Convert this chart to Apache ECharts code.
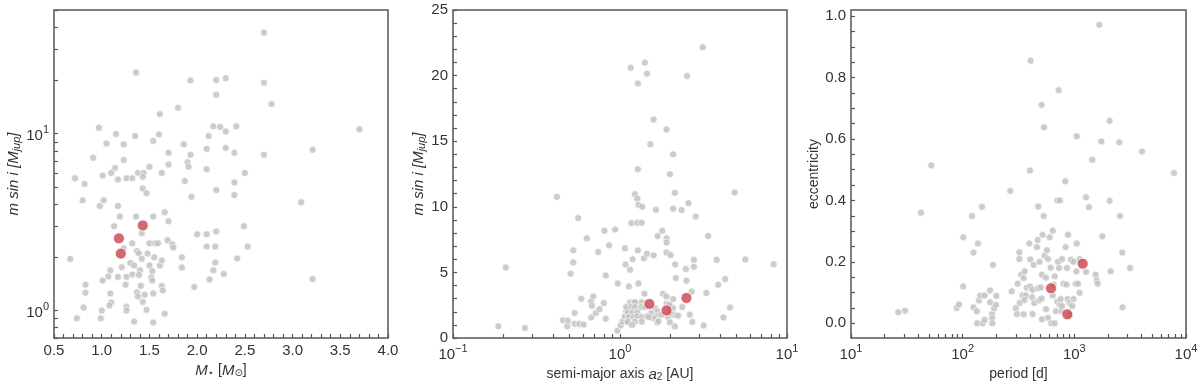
<!DOCTYPE html>
<html>
<head>
<meta charset="utf-8">
<script src="https://cdn.jsdelivr.net/npm/echarts@6/dist/echarts.min.js"></script>
<style>
html, body { margin: 0; padding: 0; background: #fff; }
#main { width: 1200px; height: 385px; }
</style>
</head>
<body>
<div id="main"></div>
<script>
// panel 1: host star mass vs m sin i
var starMass = [2.70,1.36,1.93,2.20,2.30,2.70,2.20,2.78,1.80,1.61,2.17,2.24,2.41,2.30,3.70,0.97,1.15,1.35,1.60,2.12,
    1.54,1.05,1.23,1.86,2.10,2.30,3.21,0.91,1.70,1.93,2.39,2.70,1.23,1.90,1.70,1.50,1.91,1.14,2.10,0.72,
    1.01,1.10,1.38,1.44,1.63,2.50,1.26,1.32,1.17,1.43,1.87,0.82,2.39,1.43,2.20,1.47,2.39,1.94,0.80,1.02,
    3.09,0.98,1.17,1.19,1.36,1.54,1.66,1.13,1.70,1.42,2.49,2.00,2.10,2.20,1.32,1.50,1.56,1.59,1.69,1.74,
    1.75,2.10,2.19,2.53,1.23,1.37,1.39,1.48,0.67,1.42,1.55,1.84,2.42,1.21,1.30,1.34,1.50,1.61,1.63,2.19,
    1.84,1.09,1.40,1.53,2.17,1.07,1.17,1.26,1.32,1.39,1.52,2.13,2.28,3.21,1.01,1.53,0.83,1.25,1.41,1.63,
    1.97,0.83,1.09,1.37,1.45,1.54,1.64,1.38,1.43,1.10,1.08,0.81,1.26,1.00,1.26,1.47,1.66,0.74,0.99,1.34,1.54];
var massA = [37.3,22.2,20.0,20.1,20.6,19.4,16.6,14.7,14.0,12.9,11.0,10.9,11.0,10.3,10.6,10.8,9.97,9.7,9.9,9.7,
    9.1,8.8,8.7,8.7,8.2,8.3,8.1,7.3,7.8,7.6,7.8,7.6,7.1,6.9,6.7,6.5,6.5,6.4,6.3,5.6,
    5.8,6.0,6.0,6.0,6.0,6.0,5.6,5.6,5.5,5.7,5.4,5.2,5.3,4.9,4.8,4.6,4.5,4.4,4.2,4.2,
    4.1,3.9,3.9,3.4,3.4,3.4,3.6,3.0,3.2,2.74,3.0,2.7,2.7,2.8,2.4,2.4,2.4,2.4,2.5,2.37,
    2.27,2.3,2.3,2.3,2.25,2.17,2.1,2.1,1.96,1.96,2.0,2.0,1.97,1.76,1.86,1.8,1.8,1.8,1.92,1.87,
    1.75,1.69,1.69,1.67,1.69,1.56,1.55,1.55,1.6,1.59,1.54,1.5,1.61,1.51,1.48,1.48,1.4,1.4,1.38,1.38,
    1.36,1.26,1.25,1.27,1.23,1.25,1.3,1.2,1.12,1.11,1.07,1.04,1.05,1.0,1.0,1.01,0.96,0.905,0.905,0.867,0.856];
var hostMass = [1.18, 1.20, 1.43];
var hostMassA = [2.56, 2.10, 3.03];

// panel 2: semi-major axis vs m sin i
var semiAxis = [0.187,0.207,0.27,0.419,0.455,0.483,0.487,0.506,0.525,0.525,0.535,0.535,0.562,0.57,0.586,0.605,0.633,0.672,0.679,0.692,
    0.672,0.717,0.74,0.754,0.8,0.807,0.822,0.822,0.861,0.935,0.97,0.966,1.01,1.07,1.08,1.04,1.07,1.09,1.11,1.13,
    1.15,1.16,1.17,1.19,1.15,1.21,1.23,1.35,1.09,1.17,1.23,1.34,1.41,1.12,1.19,1.27,1.13,1.21,1.27,1.35,
    1.45,1.11,1.23,1.35,1.18,1.23,1.27,1.27,1.28,1.28,1.28,1.29,1.29,1.35,1.36,1.40,1.39,1.41,1.45,1.45,
    1.52,1.59,1.59,1.64,1.68,1.79,1.81,1.90,1.90,1.90,1.90,1.99,2.01,2.08,2.13,2.08,2.14,2.16,1.62,1.68,
    1.65,1.77,1.54,1.58,1.49,1.90,1.99,2.08,2.10,1.94,1.99,2.13,2.23,2.08,1.90,1.67,1.70,2.00,1.97,2.34,
    2.36,2.48,2.50,2.52,2.57,2.62,2.69,2.71,2.77,2.77,2.84,3.13,3.17,3.29,3.37,3.79,3.87,4.16,4.26,4.56,
    4.86,5.63,8.32];
var massB = [0.89,5.38,0.76,10.76,1.35,0.89,1.32,4.9,6.68,5.76,1.9,1.09,9.14,1.07,3.0,1.02,7.6,2.8,2.46,3.17,
    1.57,1.9,6.55,2.2,2.66,8.17,4.77,1.47,7.06,8.27,4.16,0.56,0.96,6.85,5.6,1.27,1.65,2.03,1.27,3.93,
    5.2,20.6,8.76,6.0,2.72,2.72,2.72,2.72,2.36,2.36,2.36,2.36,2.36,1.95,1.95,1.95,1.6,1.6,1.65,1.6,
    1.65,1.24,1.24,1.24,1.0,10.96,8.78,10.63,12.87,19.4,6.68,4.16,10.15,8.78,10.0,3.38,6.07,20.99,20.15,6.42,
    14.77,16.65,6.3,9.77,7.77,8.17,3.38,15.89,7.6,7.28,6.52,12.49,6.32,14.0,11.07,9.85,5.6,4.57,2.28,2.03,
    1.65,1.78,1.9,1.52,1.6,2.61,2.46,2.28,1.78,1.6,1.19,0.89,1.7,2.97,3.17,1.19,1.27,1.9,2.54,9.75,
    2.36,5.25,4.37,19.97,10.28,1.78,3.55,1.22,5.43,5.96,9.26,22.16,0.96,3.43,7.77,5.96,4.06,1.57,4.49,2.33,
    11.09,5.99,5.63];
var hostAxis = [1.50, 1.90, 2.50];
var hostMassB = [2.60, 2.10, 3.05];

// panel 3: period vs eccentricity
var period = [26.5,30.5,42.4,52.4,88.3,92.7,101.4,101,121,125,125,134,135,137,140,144,149,151,157,157,
    176,176,183,184,184,187,191,199,200,267,275,299,307,311,322,322,324,335,344,352,
    352,359,369,374,357,395,401,403,403,406,418,423,423,432,438,463,470,476,473,483,
    489,502,509,513,513,520,509,531,534,542,557,558,569,581,582,601,614,622,640,640,
    653,667,667,685,705,705,714,724,729,745,741,755,766,776,776,802,830,836,853,859,
    871,877,907,920,933,959,986,986,1028,1043,1050,1050,1079,1117,1117,1272,1272,1352,1448,1552,
    1585,1618,1675,1745,1782,2071,2071,2115,2528,2564,2690,2700,3155,4038,7816];
var ecc = [0.036,0.041,0.36,0.514,0.05,0.061,0.28,0.12,0.349,0.23,0.052,0.039,0.0,0.26,0.074,0.09,0.379,0.0,0.09,0.011,
    0.107,0.068,0.03,0.016,0.0,0.19,0.049,0.06,0.089,0.431,0.104,0.049,0.03,0.129,0.231,0.209,0.066,0.158,0.091,0.029,
    0.147,0.169,0.091,0.116,0.076,0.26,0.497,0.208,0.12,0.855,0.085,0.109,0.03,0.19,0.066,0.248,0.271,0.38,0.114,0.074,
    0.2,0.117,0.081,0.158,0.013,0.288,0.711,0.349,0.638,0.22,0.148,0.046,0.238,0.209,0.018,0.28,0.181,0.0,0.301,0.09,
    0.126,0.0,0.153,0.039,0.071,0.4,0.2,0.759,0.18,0.4,0.061,0.079,0.04,0.209,0.056,0.129,0.462,0.248,0.126,0.18,
    0.079,0.288,0.066,0.027,0.207,0.056,0.2,0.079,0.129,0.169,0.26,0.609,0.129,0.099,0.209,0.167,0.41,0.378,0.532,0.158,
    0.14,0.129,0.972,0.592,0.283,0.659,0.399,0.169,0.589,0.349,0.23,0.052,0.18,0.559,0.489];
var hostPeriod = [618, 865, 1188];
var hostEcc = [0.114, 0.029, 0.194];

var FONT = 'Liberation Sans, DejaVu Sans, sans-serif';
var INK = '#333';
var GREY = '#bfbfbf';
var RED = '#c8434a';

function zip(a, b) {
    var out = [];
    for (var i = 0; i < a.length; i++) out.push([a[i], b[i]]);
    return out;
}
function steps(lo, hi, step) {
    var out = [];
    var n = Math.round((hi - lo) / step);
    for (var i = 0; i <= n; i++) out.push(+(lo + i * step).toFixed(6));
    return out;
}
function logMinor(lo, hi) {
    var out = [];
    for (var d = -2; d <= 5; d++) {
        for (var m = 1; m <= 9; m++) {
            var v = +(m * Math.pow(10, d)).toPrecision(6);
            if (v >= lo * 0.999 && v <= hi * 1.001) out.push(v);
        }
    }
    return out;
}
function powLabel(v) {
    var e = Math.round(Math.log10(v));
    return '{b|10}{s|' + (e < 0 ? '\u2212' + (-e) : e) + '}';
}
var powRich = {
    b: { fontSize: 15, fontFamily: FONT, color: INK, verticalAlign: 'bottom' },
    s: { fontSize: 11, fontFamily: FONT, color: INK, verticalAlign: 'bottom', padding: [0, 0, 8, 0] }
};

function axis(o) {
    var a = {
        type: o.type,
        gridIndex: o.grid,
        min: o.min,
        max: o.max,
        name: o.name,
        nameLocation: 'middle',
        nameGap: o.gap,
        nameRotate: o.rotate || 0,
        nameTextStyle: { fontSize: 14, fontFamily: FONT, color: INK, rich: o.nameRich },
        axisLine: { show: false, onZero: false },
        splitLine: { show: false },
        axisTick: { inside: true, length: 4, customValues: o.ticks, lineStyle: { color: '#555', width: 1.2 } },
        axisLabel: {
            fontSize: 15, fontFamily: FONT, color: INK, margin: 5,
            customValues: o.labels, formatter: o.fmt, rich: o.rich
        }
    };
    if (o.type === 'log') a.logBase = 10;
    return a;
}

var msiniRich = {
    i: { fontSize: 15, fontStyle: 'italic', fontFamily: FONT, color: INK },
    sub: { fontSize: 11, fontStyle: 'italic', fontFamily: FONT, color: INK, verticalAlign: 'bottom', padding: [6, 0, 0, 0] }
};
var msiniName = '{i|m sin i [M}{sub|jup}{i|]}';

var gridBox = { show: true, borderColor: '#555', borderWidth: 1.5, backgroundColor: 'transparent', outerBoundsMode: 'none' };

var dom = document.getElementById('main');
var myChart = echarts.init(dom, null, { renderer: 'canvas' });

var option = {
    animation: false,
    backgroundColor: '#fff',
    grid: [
        Object.assign({ left: 54, top: 10, width: 334, height: 328 }, gridBox),
        Object.assign({ left: 453, top: 10, width: 334, height: 328 }, gridBox),
        Object.assign({ left: 851, top: 10, width: 335, height: 328 }, gridBox)
    ],
    xAxis: [
        axis({ type: 'value', grid: 0, min: 0.5, max: 4.0, gap: 17,
            name: '{i|M}{sub|\u22c6} [{i|M}{sub|\u2299}]',
            nameRich: {
                i: { fontSize: 15, fontStyle: 'italic', fontFamily: FONT, color: INK },
                sub: { fontSize: 10, fontFamily: 'DejaVu Sans', color: INK, verticalAlign: 'bottom', padding: [6, 0, 0, 0] }
            },
            ticks: steps(0.5, 4.0, 0.1), labels: steps(0.5, 4.0, 0.5),
            fmt: function (v) { return v.toFixed(1); } }),
        axis({ type: 'log', grid: 1, min: 0.1, max: 10, gap: 24,
            name: 'semi-major axis {i|a}{sub|2} [AU]',
            nameRich: {
                i: { fontSize: 15, fontStyle: 'italic', fontFamily: FONT, color: INK },
                sub: { fontSize: 10, fontFamily: FONT, color: INK, verticalAlign: 'bottom', padding: [6, 0, 0, 0] }
            },
            ticks: logMinor(0.1, 10), labels: [0.1, 1, 10], fmt: powLabel, rich: powRich }),
        axis({ type: 'log', grid: 2, min: 10, max: 10000, gap: 24,
            name: 'period [d]',
            ticks: logMinor(10, 10000), labels: [10, 100, 1000, 10000], fmt: powLabel, rich: powRich })
    ],
    yAxis: [
        axis({ type: 'log', grid: 0, min: 0.7, max: 50, gap: 31, rotate: 90,
            name: msiniName, nameRich: msiniRich,
            ticks: logMinor(0.7, 50), labels: [1, 10], fmt: powLabel, rich: powRich }),
        axis({ type: 'value', grid: 1, min: 0, max: 25, gap: 26, rotate: 90,
            name: msiniName, nameRich: msiniRich,
            ticks: steps(0, 25, 1), labels: steps(0, 25, 5),
            fmt: function (v) { return String(Math.round(v)); } }),
        axis({ type: 'value', grid: 2, min: -0.048, max: 1.02, gap: 28, rotate: 90,
            name: 'eccentricity',
            ticks: steps(0, 1.0, 0.05), labels: steps(0, 1.0, 0.2),
            fmt: function (v) { return v.toFixed(1); } })
    ],
    series: [
        { type: 'scatter', xAxisIndex: 0, yAxisIndex: 0, data: zip(starMass, massA), symbolSize: 7,
          itemStyle: { color: GREY, borderColor: '#fff', borderWidth: 0.8 } },
        { type: 'scatter', xAxisIndex: 0, yAxisIndex: 0, data: zip(hostMass, hostMassA), symbolSize: 11,
          itemStyle: { color: RED, borderColor: '#fff', borderWidth: 1 }, z: 3 },
        { type: 'scatter', xAxisIndex: 1, yAxisIndex: 1, data: zip(semiAxis, massB), symbolSize: 7,
          itemStyle: { color: GREY, borderColor: '#fff', borderWidth: 0.8 } },
        { type: 'scatter', xAxisIndex: 1, yAxisIndex: 1, data: zip(hostAxis, hostMassB), symbolSize: 11,
          itemStyle: { color: RED, borderColor: '#fff', borderWidth: 1 }, z: 3 },
        { type: 'scatter', xAxisIndex: 2, yAxisIndex: 2, data: zip(period, ecc), symbolSize: 7,
          itemStyle: { color: GREY, borderColor: '#fff', borderWidth: 0.8 } },
        { type: 'scatter', xAxisIndex: 2, yAxisIndex: 2, data: zip(hostPeriod, hostEcc), symbolSize: 11,
          itemStyle: { color: RED, borderColor: '#fff', borderWidth: 1 }, z: 3 }
    ]
};

if (option && typeof option === 'object') {
    myChart.setOption(option, true);
}
</script>
</body>
</html>
